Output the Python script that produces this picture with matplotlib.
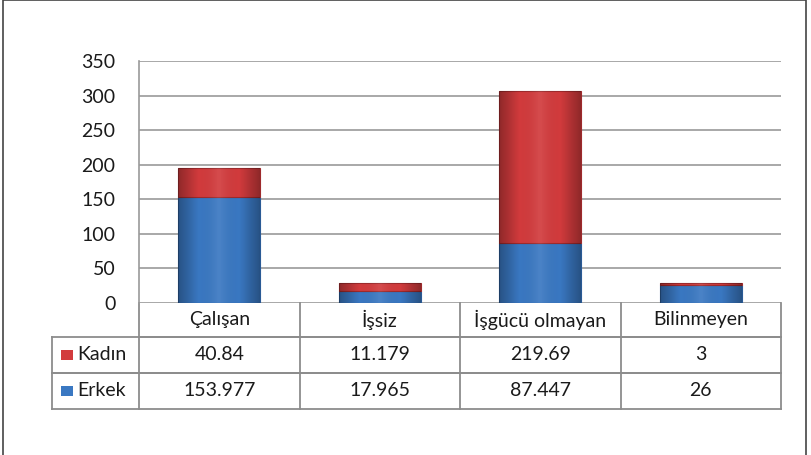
import numpy as np
import matplotlib.pyplot as plt
from matplotlib.patches import Rectangle
from matplotlib.colors import LinearSegmentedColormap

plt.rcParams['font.family'] = ['Lato', 'DejaVu Sans']

# data
categories = ["Çalışan", "İşsiz", "İşgücü olmayan", "Bilinmeyen"]
erkek = [153.977, 17.965, 87.447, 26]
kadin = [40.84, 11.179, 219.69, 3]
erkek_txt = ["153.977", "17.965", "87.447", "26"]
kadin_txt = ["40.84", "11.179", "219.69", "3"]
yticks = [0, 50, 100, 150, 200, 250, 300, 350]

blue = "#3A78C2"
red = "#D23B3D"
grid_col = "#9A9A9A"
txt_col = "#1A1A1A"
fs = 14

W, H = 812, 455
fig = plt.figure(figsize=(W / 100, H / 100), dpi=100)
ax = fig.add_axes([139 / W, 1 - 303 / H, (781 - 139) / W, (303 - 61) / H])

x = np.arange(len(categories))
bw = 0.51
b1 = ax.bar(x, erkek, bw, color=blue, edgecolor="#2A5A95", linewidth=0.8, zorder=3)
b2 = ax.bar(x, kadin, bw, bottom=erkek, color=red, edgecolor="#9E2A2C", linewidth=0.8, zorder=3)

# soft horizontal shading to mimic the bevelled bars
def shade(bars):
    cmap = LinearSegmentedColormap.from_list("s", ["#00000050", "#00000000", "#ffffff18", "#00000000", "#00000050"])
    grad = np.linspace(0, 1, 64).reshape(1, -1)
    for b in bars:
        xx, yy = b.get_x(), b.get_y()
        im = ax.imshow(grad, cmap=cmap, extent=[xx, xx + b.get_width(), yy, yy + b.get_height()],
                       aspect="auto", zorder=4, interpolation="bicubic")
        im.set_clip_path(b)

shade(b1)
shade(b2)

ax.set_xlim(-0.5, len(categories) - 0.5)
ax.set_ylim(0, 350)
ax.set_yticks(yticks)
ax.set_xticks([])
ax.tick_params(axis="y", length=0, pad=17, labelsize=fs, labelcolor=txt_col)
ax.yaxis.grid(True, color=grid_col, linewidth=1.2)
ax.set_axisbelow(True)
for s in ["top", "right", "bottom"]:
    ax.spines[s].set_visible(False)
ax.spines["left"].set_color(grid_col)
ax.spines["left"].set_linewidth(1.2)

# data table underneath (columns follow the category positions)
tr = ax.get_xaxis_transform()
unit = 242  # axes height in pixels
head_h = 34 / unit
row_h = 36 / unit
cw = (781 - 139) / len(categories)
left = -0.5 - (139 - 52) / cw
right = len(categories) - 0.5
lw = 1.3
lc = "#8C8C8C"
rows = [("Kadın", red, kadin_txt), ("Erkek", blue, erkek_txt)]
bottom = -head_h - len(rows) * row_h

# header row
ax.plot([-0.5, right], [-head_h, -head_h], transform=tr, color=lc, lw=lw, clip_on=False)
ax.plot([-0.5, -0.5], [0, -head_h], transform=tr, color=lc, lw=lw, clip_on=False)
for i, c in enumerate(categories):
    ax.plot([i + 0.5, i + 0.5], [0, bottom], transform=tr, color=lc, lw=lw, clip_on=False)
    ax.text(i, -head_h / 2, c, transform=tr, ha="center", va="center", fontsize=fs, color=txt_col)

for r, (name, col, vals) in enumerate(rows):
    y0 = -head_h - r * row_h
    y1 = y0 - row_h
    ax.plot([left, right], [y0, y0], transform=tr, color=lc, lw=lw, clip_on=False)
    ax.plot([left, right], [y1, y1], transform=tr, color=lc, lw=lw, clip_on=False)
    ax.plot([left, left], [y0, y1], transform=tr, color=lc, lw=lw, clip_on=False)
    ax.plot([-0.5, -0.5], [y0, y1], transform=tr, color=lc, lw=lw, clip_on=False)
    ym = (y0 + y1) / 2
    ax.add_patch(Rectangle((left + 9 / cw, ym - 5 / unit), 12 / cw, 10 / unit, transform=tr,
                           facecolor=col, edgecolor="none", clip_on=False))
    ax.text(left + 25 / cw, ym, name, transform=tr, ha="left", va="center", fontsize=fs, color=txt_col)
    for i, v in enumerate(vals):
        ax.text(i, ym, v, transform=tr, ha="center", va="center", fontsize=fs, color=txt_col)

# outer frame
fig.add_artist(Rectangle((3 / W, -0.01), (806 - 3) / W, 1.01, transform=fig.transFigure,
                         fill=False, edgecolor="#444444", lw=1.2))

fig.savefig("out.png", dpi=100)
